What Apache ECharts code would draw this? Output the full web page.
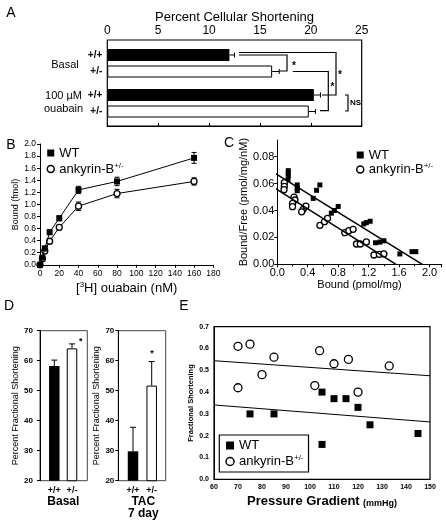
<!DOCTYPE html>
<html><head><meta charset="utf-8">
<script src="https://cdn.jsdelivr.net/npm/echarts@6/dist/echarts.min.js"></script>
<style>html,body{margin:0;padding:0;background:#fff}#c{width:446px;height:526px}</style>
</head><body><div id="c"></div>
<script>
// ---------- Panel A : percent cellular shortening ----------
const aCats = ['+/+', '+/-'];
const aBasal = [12.0, 16.2];
const aBasalErr = [0.5, 0.7];
const aOuabain = [20.3, 19.8];
const aOuabainErr = [0.65, 0.65];
const aTicks = [0, 5, 10, 15, 20, 25];
// ---------- Panel B : ouabain binding ----------
const bConc = [0, 2.5, 5, 10, 20, 40, 80, 160];
const bWT = [0, 0.12, 0.27, 0.54, 0.77, 1.24, 1.38, 1.77];
const bWTErr = [0, 0.02, 0.04, 0.04, 0.04, 0.06, 0.07, 0.09];
const bAnk = [0, 0.10, 0.23, 0.39, 0.62, 0.97, 1.18, 1.38];
const bAnkErr = [0, 0.02, 0.03, 0.04, 0.04, 0.07, 0.07, 0.06];
// ---------- Panel C : Scatchard ----------
const cWTx = [0.144,0.144,0.144,0.14,0.262,0.262,0.262,0.516,0.559,0.472,0.80,0.75,0.71,1.136,1.17,1.22,1.29,1.35,1.40,1.61,1.77,1.82];
const cWTy = [0.0696,0.0676,0.0656,0.063,0.059,0.0565,0.0547,0.055,0.059,0.049,0.043,0.040,0.038,0.030,0.031,0.032,0.016,0.0165,0.0175,0.0077,0.0094,0.0094];
const cAnkx = [0.092,0.092,0.088,0.219,0.232,0.20,0.20,0.34,0.376,0.32,0.56,0.62,0.66,0.887,0.94,0.996,1.04,1.09,1.17,1.27,1.34,1.40];
const cAnky = [0.0607,0.058,0.0555,0.050,0.0478,0.0453,0.0428,0.0409,0.0433,0.039,0.029,0.0317,0.0342,0.0235,0.025,0.026,0.0151,0.0151,0.0166,0.0069,0.0074,0.0077];
const cWTFit = [[-0.13, 0.0711], [1.905, 0]];
const cAnkFit = [[-0.13, 0.0601], [1.56, 0]];
// ---------- Panel D : percent fractional shortening ----------
const dCats = ['+/+', '+/-'];
const dBasal = [58.2, 64.1];
const dBasalErr = [2.0, 1.5];
const dTAC = [29.8, 51.7];
const dTACErr = [8.0, 8.0];
// ---------- Panel E : FS vs pressure gradient ----------
const eWTx = [75, 85, 105, 110, 115, 120, 125, 145, 105];
const eWTy = [0.30, 0.30, 0.40, 0.37, 0.37, 0.33, 0.25, 0.21, 0.16];
const eAnkx = [70, 75, 85, 80, 70, 104, 102, 110, 116, 120, 133];
const eAnky = [0.61, 0.62, 0.56, 0.48, 0.42, 0.59, 0.43, 0.53, 0.55, 0.40, 0.52];
const eWTFit = [[60, 0.341], [150, 0.263]];
const eAnkFit = [[60, 0.544], [150, 0.475]];

const F = 'Liberation Sans, Arial, Helvetica, sans-serif';
const BLACK = '#000';
const zip = (xs, ys) => xs.map((x, i) => [x, ys[i]]);
const zip3 = (xs, ys, es) => xs.map((x, i) => [x, ys[i], es[i]]);
const barData = vals => vals.map((v, i) => ({
  value: v,
  itemStyle: i === 0 ? {color: BLACK} : {color: '#fff', borderColor: BLACK, borderWidth: 1}
}));
const ln = (x1, y1, x2, y2, w) => ({type: 'line', shape: {x1, y1, x2, y2}, style: {stroke: BLACK, lineWidth: w || 1}});

function vErr(both, cap) {
  return function (params, api) {
    const x = api.value(0), y = api.value(1), e = api.value(2);
    if (!e) return null;
    const top = api.coord([x, y + e]);
    const bot = api.coord([x, both ? y - e : y]);
    const ch = [ln(top[0], top[1], bot[0], bot[1]), ln(top[0] - cap, top[1], top[0] + cap, top[1])];
    if (both) ch.push(ln(bot[0] - cap, bot[1], bot[0] + cap, bot[1]));
    return {type: 'group', children: ch};
  };
}
function hErr(params, api) {
  const c = api.value(0), v = api.value(1), e = api.value(2);
  const p0 = api.coord([v, c]);
  const p1 = api.coord([v + e, c]);
  return {type: 'group', children: [ln(p0[0], p0[1], p1[0], p1[1]), ln(p1[0], p1[1] - 2.5, p1[0], p1[1] + 2.5)]};
}

const hidden = (extra) => Object.assign({show: false}, extra);
const axLine = {show: true, lineStyle: {color: BLACK, width: 1}};
const tickOut = {show: true, inside: false, length: 3, lineStyle: {color: BLACK}};
const supRich = {sup: {fontSize: 8, fontFamily: F, padding: [0, 0, 7, 0]}};

const option = {
  animation: false,
  backgroundColor: '#fff',
  textStyle: {fontFamily: F, color: BLACK},
  grid: [
    {left: 107.3, top: 40, width: 254.4, height: 86, show: true, borderColor: BLACK, borderWidth: 1.2},   // 0 A box
    {left: 107.3, top: 46.75, width: 254.4, height: 33},   // 1 A basal
    {left: 107.3, top: 86.75, width: 254.4, height: 33},   // 2 A ouabain
    {left: 40, top: 144, width: 173.3, height: 120.8},     // 3 B
    {left: 277.3, top: 140, width: 164.4, height: 124.3},  // 4 C
    {left: 40, top: 330.7, width: 47.3, height: 150, show: true, borderColor: '#444', borderWidth: 1},  // 5 D1 box
    {left: 45.45, top: 330.7, width: 35.4, height: 150},   // 6 D1 bars
    {left: 118.3, top: 330.7, width: 47.4, height: 150, show: true, borderColor: '#444', borderWidth: 1}, // 7 D2 box
    {left: 123.65, top: 330.7, width: 37.4, height: 150},  // 8 D2 bars
    {left: 214, top: 326.7, width: 216, height: 152.6, show: true, borderColor: BLACK, borderWidth: 1.2} // 9 E
  ],
  xAxis: [
    {gridIndex: 0, type: 'value', position: 'top', min: aTicks[0], max: aTicks[aTicks.length - 1], interval: 5,
      name: 'Percent Cellular Shortening', nameLocation: 'middle', nameGap: 16,
      nameTextStyle: {fontSize: 13, fontFamily: F, color: BLACK},
      axisLine: axLine, axisTick: tickOut, splitLine: {show: false},
      axisLabel: {fontSize: 12, fontFamily: F, color: BLACK, margin: 3}},
    hidden({gridIndex: 1, type: 'value', min: 0, max: 25}),
    hidden({gridIndex: 2, type: 'value', min: 0, max: 25}),
    {gridIndex: 3, type: 'value', min: 0, max: 180, interval: 20,
      name: '[{sup|3}H] ouabain (nM)', nameLocation: 'middle', nameGap: 16,
      nameTextStyle: {fontSize: 13, fontFamily: F, color: BLACK, rich: supRich},
      axisLine: axLine, axisTick: tickOut, splitLine: {show: false},
      axisLabel: {fontSize: 8.5, fontFamily: F, color: BLACK, margin: 4}},
    {gridIndex: 4, type: 'value', min: 0, max: 2.16, interval: 0.4,
      name: 'Bound (pmol/mg)', nameLocation: 'middle', nameGap: 12,
      nameTextStyle: {fontSize: 11, fontFamily: F, color: BLACK},
      axisLine: axLine, axisTick: tickOut, splitLine: {show: false},
      minorTick: {show: true, splitNumber: 2, length: 2, lineStyle: {color: BLACK}},
      axisLabel: {fontSize: 11, fontFamily: F, color: BLACK, margin: 3, showMaxLabel: false,
        formatter: v => v.toFixed(1)}},
    hidden({gridIndex: 5, type: 'value', min: 0, max: 1}),
    {gridIndex: 6, type: 'category', data: dCats,
      axisLine: {show: false}, axisTick: {show: false},
      axisLabel: {fontSize: 9, fontWeight: 'bold', fontFamily: F, color: BLACK, margin: 5}},
    hidden({gridIndex: 7, type: 'value', min: 0, max: 1}),
    {gridIndex: 8, type: 'category', data: dCats,
      axisLine: {show: false}, axisTick: {show: false},
      axisLabel: {fontSize: 9, fontWeight: 'bold', fontFamily: F, color: BLACK, margin: 5}},
    {gridIndex: 9, type: 'value', min: 60, max: 150, interval: 10,
      name: '{b|Pressure Gradient} {s|(mmHg)}', nameLocation: 'middle', nameGap: 16,
      nameTextStyle: {rich: {b: {fontSize: 13, fontWeight: 'bold', fontFamily: F}, s: {fontSize: 9, fontWeight: 'bold', fontFamily: F, padding: [3, 0, 0, 0]}}},
      axisLine: axLine, axisTick: {show: false}, splitLine: {show: false},
      axisLabel: {fontSize: 7, fontWeight: 'bold', fontFamily: F, color: BLACK, margin: 4}}
  ],
  yAxis: [
    hidden({gridIndex: 0, type: 'value', min: 0, max: 1}),
    {gridIndex: 1, type: 'category', data: aCats, inverse: true,
      axisLine: {show: false}, axisTick: {show: false},
      axisLabel: {fontSize: 10, fontWeight: 'bold', fontFamily: F, color: BLACK, margin: 5}},
    {gridIndex: 2, type: 'category', data: aCats, inverse: true,
      axisLine: {show: false}, axisTick: {show: false},
      axisLabel: {fontSize: 10, fontWeight: 'bold', fontFamily: F, color: BLACK, margin: 5}},
    {gridIndex: 3, type: 'value', min: 0, max: 2, interval: 0.2,
      name: 'Bound (fmol)', nameLocation: 'middle', nameGap: 18,
      nameTextStyle: {fontSize: 9, fontFamily: F, color: BLACK},
      axisLine: axLine, axisTick: tickOut, splitLine: {show: false},
      axisLabel: {fontSize: 8.5, fontFamily: F, color: BLACK, margin: 4, formatter: v => v.toFixed(1)}},
    {gridIndex: 4, type: 'value', min: 0, max: 0.0924, interval: 0.02,
      name: 'Bound/Free (pmol/mg/nM)', nameLocation: 'middle', nameGap: 27,
      nameTextStyle: {fontSize: 11, fontFamily: F, color: BLACK},
      axisLine: axLine, axisTick: tickOut, splitLine: {show: false},
      axisLabel: {fontSize: 11, fontFamily: F, color: BLACK, margin: 3, showMaxLabel: false,
        formatter: v => v.toFixed(2)}},
    {gridIndex: 5, type: 'value', min: 20, max: 70, interval: 10,
      name: 'Percent Fractional Shortening', nameLocation: 'middle', nameGap: 14,
      nameTextStyle: {fontSize: 9, fontFamily: F, color: BLACK},
      axisLine: axLine, axisTick: tickOut, splitLine: {show: false},
      axisLabel: {fontSize: 8, fontWeight: 'bold', fontFamily: F, color: BLACK, margin: 7}},
    hidden({gridIndex: 6, type: 'value', min: 20, max: 70}),
    {gridIndex: 7, type: 'value', min: 20, max: 70, interval: 10,
      name: 'Percent Fractional Shortening', nameLocation: 'middle', nameGap: 12,
      nameTextStyle: {fontSize: 9, fontFamily: F, color: BLACK},
      axisLine: axLine, axisTick: tickOut, splitLine: {show: false},
      axisLabel: {fontSize: 8, fontWeight: 'bold', fontFamily: F, color: BLACK, margin: 4}},
    hidden({gridIndex: 8, type: 'value', min: 20, max: 70}),
    {gridIndex: 9, type: 'value', min: 0, max: 0.7, interval: 0.1,
      name: 'Fractional Shortening', nameLocation: 'middle', nameGap: 15,
      nameTextStyle: {fontSize: 7.5, fontWeight: 'bold', fontFamily: F, color: BLACK},
      axisLine: axLine, axisTick: {show: false}, splitLine: {show: false},
      axisLabel: {fontSize: 7, fontWeight: 'bold', fontFamily: F, color: BLACK, margin: 5, formatter: v => v.toFixed(1)}}
  ],
  legend: [
    {left: 46.5, top: 145.5, orient: 'vertical', padding: 0, itemGap: 1, itemWidth: 7, itemHeight: 7,
      selectedMode: false,
      textStyle: {fontSize: 13, fontFamily: F, color: BLACK, lineHeight: 15, rich: supRich},
      formatter: n => n === 'WT' ? 'WT' : 'ankyrin-B{sup|+/-}',
      data: [{name: 'WT', icon: 'rect', itemStyle: {color: BLACK, borderWidth: 0}},
        {name: 'ankyrin-B+/-', icon: 'circle', itemStyle: {color: '#fff', borderColor: BLACK, borderWidth: 1.5}}]},
    {left: 356, top: 148, orient: 'vertical', padding: 0, itemGap: 0, itemWidth: 7, itemHeight: 7,
      selectedMode: false,
      textStyle: {fontSize: 13, fontFamily: F, color: BLACK, lineHeight: 14, rich: supRich},
      formatter: n => n === 'WT' ? 'WT' : 'ankyrin-B{sup|+/-}',
      data: [{name: 'WT', icon: 'rect', itemStyle: {color: BLACK, borderWidth: 0}},
        {name: 'ankyrin-B+/-', icon: 'circle', itemStyle: {color: '#fff', borderColor: BLACK, borderWidth: 1.5}}]},
    {left: 219.3, top: 435, orient: 'vertical', padding: [3, 5, 3, 6], itemGap: 1, itemWidth: 8, itemHeight: 8,
      selectedMode: false, borderColor: BLACK, borderWidth: 1.2, backgroundColor: '#fff',
      textStyle: {fontSize: 13, fontFamily: F, color: BLACK, lineHeight: 15, rich: supRich},
      formatter: n => n === 'WT' ? 'WT' : 'ankyrin-B{sup|+/-}',
      data: [{name: 'WT', icon: 'rect', itemStyle: {color: BLACK, borderWidth: 0}},
        {name: 'ankyrin-B+/-', icon: 'circle', itemStyle: {color: '#fff', borderColor: BLACK, borderWidth: 1.5}}]}
  ],
  series: [
    // A bars
    {type: 'bar', xAxisIndex: 1, yAxisIndex: 1, barWidth: 12, data: barData(aBasal), silent: true},
    {type: 'bar', xAxisIndex: 2, yAxisIndex: 2, barWidth: 12, data: barData(aOuabain), silent: true},
    {type: 'custom', xAxisIndex: 1, yAxisIndex: 1, renderItem: hErr, encode: {x: 1, y: 0},
      data: zip3(aCats.map((c, i) => i), aBasal, aBasalErr), z: 3},
    {type: 'custom', xAxisIndex: 2, yAxisIndex: 2, renderItem: hErr, encode: {x: 1, y: 0},
      data: zip3(aCats.map((c, i) => i), aOuabain, aOuabainErr), z: 3},
    // B
    {type: 'custom', xAxisIndex: 3, yAxisIndex: 3, renderItem: vErr(true, 2.5), encode: {x: 0, y: 1},
      data: zip3(bConc, bAnk, bAnkErr), z: 1},
    {type: 'custom', xAxisIndex: 3, yAxisIndex: 3, renderItem: vErr(true, 2.5), encode: {x: 0, y: 1},
      data: zip3(bConc, bWT, bWTErr), z: 1},
    {name: 'ankyrin-B+/-', type: 'line', xAxisIndex: 3, yAxisIndex: 3, data: zip(bConc, bAnk),
      symbol: 'circle', symbolSize: 6, itemStyle: {color: '#fff', borderColor: BLACK, borderWidth: 1.3},
      lineStyle: {color: BLACK, width: 1}, z: 2},
    {name: 'WT', type: 'line', xAxisIndex: 3, yAxisIndex: 3, data: zip(bConc, bWT),
      symbol: 'rect', symbolSize: 6, itemStyle: {color: BLACK}, lineStyle: {color: BLACK, width: 1}, z: 3},
    // C
    {type: 'line', xAxisIndex: 4, yAxisIndex: 4, data: cWTFit, showSymbol: false, clip: false,
      lineStyle: {color: BLACK, width: 1.5}, silent: true},
    {type: 'line', xAxisIndex: 4, yAxisIndex: 4, data: cAnkFit, showSymbol: false, clip: false,
      lineStyle: {color: BLACK, width: 1.5}, silent: true},
    {name: 'WT', type: 'scatter', xAxisIndex: 4, yAxisIndex: 4, data: zip(cWTx, cWTy),
      symbol: 'rect', symbolSize: 5, itemStyle: {color: BLACK, opacity: 1}},
    {name: 'ankyrin-B+/-', type: 'scatter', xAxisIndex: 4, yAxisIndex: 4, data: zip(cAnkx, cAnky),
      symbol: 'circle', symbolSize: 6, itemStyle: {color: '#fff', borderColor: BLACK, borderWidth: 1.3, opacity: 1}},
    // D
    {type: 'bar', xAxisIndex: 6, yAxisIndex: 6, barWidth: 10.5, data: barData(dBasal), silent: true},
    {type: 'bar', xAxisIndex: 8, yAxisIndex: 8, barWidth: 10.5, data: barData(dTAC), silent: true},
    {type: 'custom', xAxisIndex: 6, yAxisIndex: 6, renderItem: vErr(false, 3), encode: {x: 0, y: 1},
      data: zip3(dCats.map((c, i) => i), dBasal, dBasalErr), z: 3},
    {type: 'custom', xAxisIndex: 8, yAxisIndex: 8, renderItem: vErr(false, 3), encode: {x: 0, y: 1},
      data: zip3(dCats.map((c, i) => i), dTAC, dTACErr), z: 3},
    // E
    {type: 'line', xAxisIndex: 9, yAxisIndex: 9, data: eAnkFit, showSymbol: false,
      lineStyle: {color: BLACK, width: 1}, silent: true},
    {type: 'line', xAxisIndex: 9, yAxisIndex: 9, data: eWTFit, showSymbol: false,
      lineStyle: {color: BLACK, width: 1}, silent: true},
    {name: 'WT', type: 'scatter', xAxisIndex: 9, yAxisIndex: 9, data: zip(eWTx, eWTy),
      symbol: 'rect', symbolSize: 7, itemStyle: {color: BLACK, opacity: 1}},
    {name: 'ankyrin-B+/-', type: 'scatter', xAxisIndex: 9, yAxisIndex: 9, data: zip(eAnkx, eAnky),
      symbol: 'circle', symbolSize: 8, itemStyle: {color: '#fff', borderColor: BLACK, borderWidth: 1.3, opacity: 1}}
  ],
  graphic: (function () {
    const t = (text, x, y, size, weight, align) => ({type: 'text', x, y, silent: true,
      style: {text, fontSize: size, fontWeight: weight || 'normal', fontFamily: F, fill: BLACK,
        align: align || 'center', verticalAlign: 'middle'}});
    const pl = (pts) => ({type: 'polyline', silent: true, shape: {points: pts},
      style: {stroke: BLACK, lineWidth: 1.2, fill: null}});
    return [
      t('A', 11, 13, 14), t('B', 11, 145, 14), t('C', 229, 143, 14), t('D', 9, 306, 14), t('E', 184, 306, 14),
      t('Basal', 65, 64.5, 11), t('100 µM', 63.5, 95.7, 11), t('ouabain', 63.5, 108.5, 11),
      pl([[239, 52.5], [336, 52.5], [336, 95], [322, 95]]),
      pl([[239, 55], [287, 55], [287, 71], [280, 71]]),
      pl([[292.7, 71.5], [328.3, 71.5], [328.3, 110.7], [320, 110.7]]),
      pl([[345, 95], [348, 95], [348, 111], [345, 111]]),
      t('*', 294, 66, 10, 'bold'), t('*', 340, 75, 10, 'bold'), t('*', 332.5, 87.5, 10, 'bold'),
      t('NS', 350, 103, 8, 'bold', 'left'),
      t('*', 80.7, 342, 9, 'bold'), t('*', 152, 353.5, 9, 'bold'),
      t('Basal', 63.3, 502, 12, 'bold'), t('TAC', 143.3, 502, 12, 'bold'), t('7 day', 143.3, 514, 12, 'bold')
    ];
  })()
};
const chart = echarts.init(document.getElementById('c'));
chart.setOption(option);
</script>
</body></html>
